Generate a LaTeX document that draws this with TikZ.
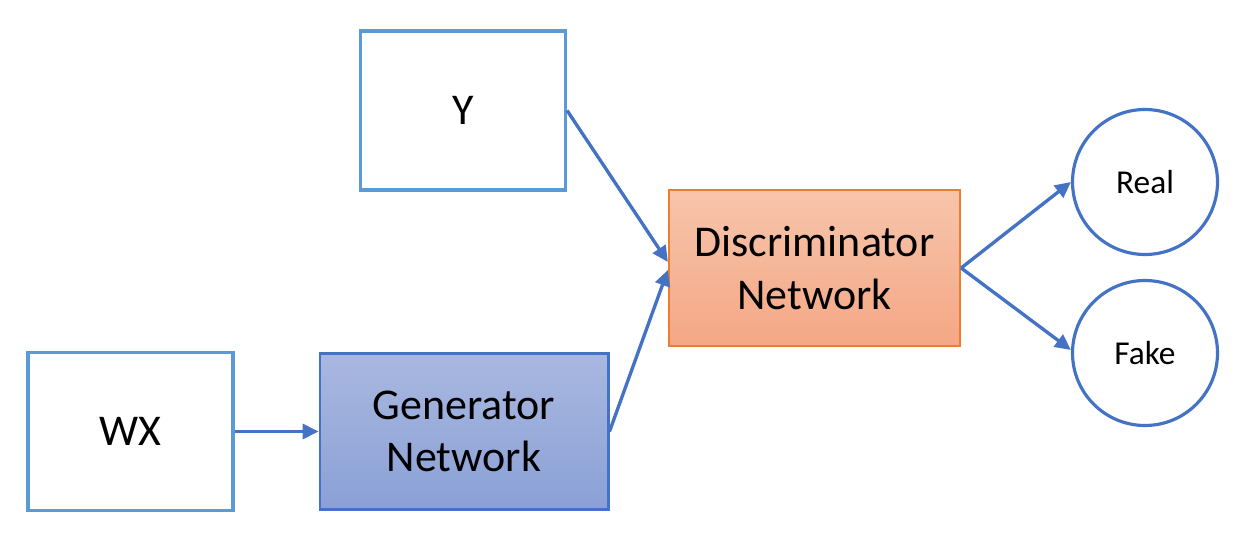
\documentclass[tikz,border=0pt]{standalone}
\usepackage{fontspec}
\setmainfont{Carlito}
\usepackage{xcolor}
\usetikzlibrary{arrows.meta,positioning}
\definecolor{inblue}{HTML}{5B9BD5}
\definecolor{netblue}{HTML}{4472C4}
\definecolor{netorange}{HTML}{ED7D31}
\begin{document}
\begin{tikzpicture}[>={Triangle[length=9pt,width=8.5pt]},semithick]
			\tikzstyle{inbox}=[draw=inblue,line width=1.8pt,minimum width=4.1cm,minimum height=3.15cm,font=\fontsize{25}{30}\selectfont]
			\tikzstyle{netbox}=[draw,minimum height=3.13cm,align=center,font=\fontsize{25}{30}\selectfont]
			\tikzstyle{outcircle}=[circle,draw=netblue,line width=1.8pt,minimum size=2.9cm,inner sep=0pt,font=\fontsize{19}{23}\selectfont]
			\tikzstyle{every edge}=[draw=netblue,line width=1.9pt,->]
			\useasboundingbox (0,0) rectangle (24.72,-10.72);
			\node[inbox]    (wx) at (2.61,-8.63)                       {WX};
			\node[netbox,draw=netblue,line width=1.7pt,top color={rgb,255:red,169;green,184;blue,224},bottom color={rgb,255:red,138;green,160;blue,214},minimum width=5.76cm]
			                (gen)[right of=wx,node distance=6.67cm]    {Generator\\Network};
			\node[inbox,minimum height=3.18cm] (y) at (9.26,-2.21)       {Y};
			\node[netbox,draw=netorange,line width=1.3pt,top color={rgb,255:red,247;green,197;blue,171},bottom color={rgb,255:red,244;green,167;blue,133},minimum width=5.82cm]
			                (disc) at (16.29,-5.36)                    {Discriminator\\Network};
			\node[outcircle] (real) at (22.9,-3.64)                    {Real};
			\node[outcircle] (fake)[below of=real,node distance=3.42cm] {Fake};
			\path
			(wx) edge (gen)
			(y.east) edge ([yshift=0.12cm]disc.west)
			(gen.east) edge ([yshift=-0.04cm]disc.west)
			(disc.east) edge (real.west)
			(disc.east) edge ([yshift=0.06cm]fake.west);
		\end{tikzpicture}
\end{document}
